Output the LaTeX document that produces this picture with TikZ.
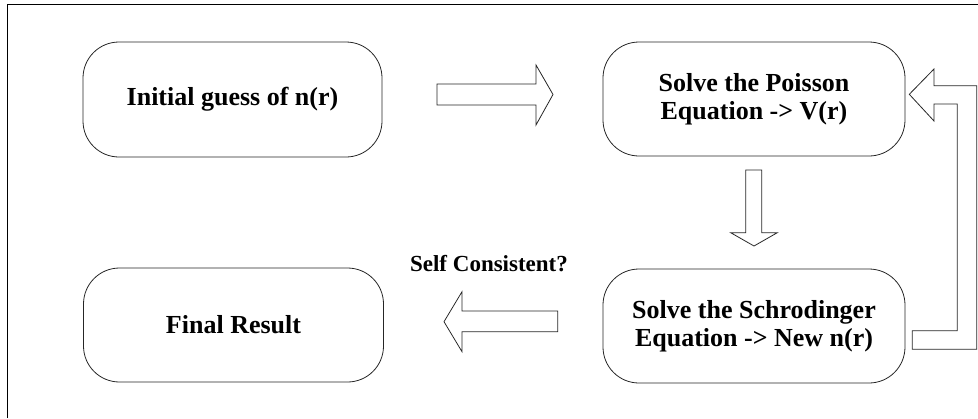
\documentclass[tikz,border=0pt]{standalone}
\usepackage{fontspec}
\setmainfont{Liberation Serif}
\begin{document}
\begin{tikzpicture}[x=1pt,y=-1pt,
  box/.style={draw=black!85,line width=0.8pt,rounded corners=36pt,align=center,
    font=\fontsize{26}{28}\selectfont\bfseries,inner sep=0pt},
  blockarrow/.style={draw=black!85,line width=0.8pt,fill=white,line join=miter},
  frame/.style={draw=black,line width=1pt}]
\useasboundingbox (0,0) rectangle (978,418);
\draw[frame] (7,418) -- (7,4.5) -- (978,4.5);
\node[box,minimum width=299pt,minimum height=115pt] (init) at (232.5,99.5) {Initial guess of n(r)};
\node[box,minimum width=302pt,minimum height=114pt] (poisson) at (754,99) {Solve the Poisson\\Equation -> V(r)};
\node[box,minimum width=302pt,minimum height=114pt] (schr) at (754,326) {Solve the Schrodinger\\Equation -> New n(r)};
\node[box,minimum width=300pt,minimum height=114pt] (final) at (233.5,325) {Final Result};
\node[font=\fontsize{23}{25}\selectfont\bfseries,inner sep=0pt] (sc) at (489,264) {Self Consistent?};
% right arrow
\draw[blockarrow] (437,84) -- (536,84) -- (536,65) -- (553,94.5) -- (536,125) -- (536,105) -- (437,105) -- cycle;
% down arrow
\draw[blockarrow] (745.7,170) -- (761.7,170) -- (761.7,232.7) -- (777.3,232.7) -- (754,246) -- (730.7,232.7) -- (745.7,232.7) -- cycle;
% left arrow
\draw[blockarrow] (557.7,311) -- (462,311) -- (462,291.7) -- (444,321.7) -- (462,351.7) -- (462,331.7) -- (557.7,331.7) -- cycle;
% loop arrow
\draw[blockarrow] (912.3,349.3) -- (976.7,349.3) -- (976.7,85.7) -- (934,85.7) -- (934,69) -- (909.3,94.3) -- (934,121) -- (934,104) -- (957.3,104) -- (957.3,330.7) -- (912.3,330.7) -- cycle;
\end{tikzpicture}
\end{document}
